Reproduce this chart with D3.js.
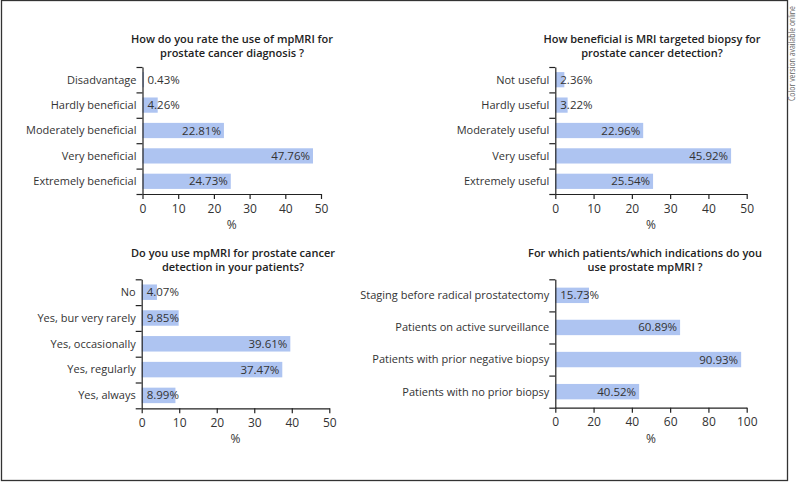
<!DOCTYPE html>
<html>
<head>
<meta charset="utf-8">
<script src="https://cdn.jsdelivr.net/npm/d3@7"></script>
<style>
  body { margin: 0; background: #fff; }
  svg { display: block; font-family: "Open Sans", "Noto Sans", sans-serif; }
  .axis path, .axis line { stroke: #222; stroke-width: 1.2; }
  .axis text { font-size: 12px; fill: #333; font-family: "Open Sans", sans-serif; }
</style>
</head>
<body>
<div id="chart"></div>
<script>
// Panel 1 - rating of mpMRI
const cats1 = ["Disadvantage", "Hardly beneficial", "Moderately beneficial", "Very beneficial", "Extremely beneficial"];
const vals1 = [0.43, 4.26, 22.81, 47.76, 24.73];

// Panel 2 - MRI targeted biopsy
const cats2 = ["Not useful", "Hardly useful", "Moderately useful", "Very useful", "Extremely useful"];
const vals2 = [2.36, 3.22, 22.96, 45.92, 25.54];

// Panel 3 - use of mpMRI
const cats3 = ["No", "Yes, bur very rarely", "Yes, occasionally", "Yes, regularly", "Yes, always"];
const vals3 = [4.07, 9.85, 39.61, 37.47, 8.99];

// Panel 4 - indications (bars drawn a bit longer than the printed values)
const cats4 = ["Staging before radical prostatectomy", "Patients on active surveillance", "Patients with prior negative biopsy", "Patients with no prior biopsy"];
const vals4 = [17.6, 65.2, 97.1, 43.8];
const labels4 = ["15.73%", "60.89%", "90.93%", "40.52%"];

const ticks50 = [0, 10, 20, 30, 40, 50];
const ticks100 = [0, 20, 40, 60, 80, 100];

const width = 798, height = 482;

const svg = d3.select("#chart").append("svg")
    .attr("width", width)
    .attr("height", height);

// outer frame
svg.append("rect")
    .attr("x", 1.5).attr("y", 0.5)
    .attr("width", 786).attr("height", 480)
    .attr("fill", "none")
    .attr("stroke", "#333")
    .attr("stroke-width", 1.3);

// side note
svg.append("text")
    .attr("transform", "translate(794.5,101) rotate(-90)")
    .attr("font-size", 8.4)
    .attr("fill", "#666")
    .attr("textLength", 95)
    .attr("lengthAdjust", "spacingAndGlyphs")
    .text("Color version available online");

function drawPanel(p) {
    const x = d3.scaleLinear().domain([0, p.ticks[p.ticks.length - 1]]).range([p.x0, p.x1]);
    const y = d3.scaleBand().domain(p.cats).range([p.yTop, p.yBot]).paddingInner(p.pad).paddingOuter(p.pad / 2);
    const yEdge = d3.scaleLinear().domain([0, p.cats.length]).range([p.yTop, p.yBot]);
    const g = svg.append("g");

    // title
    g.append("text")
        .attr("text-anchor", "middle")
        .attr("font-size", 11)
        .attr("font-weight", 600)
        .attr("fill", "#222")
        .selectAll("tspan")
        .data(p.title)
        .enter().append("tspan")
        .attr("x", p.titleX)
        .attr("y", (d, i) => p.titleY + i * 14)
        .text(d => d);

    // bars
    g.selectAll("rect.bar")
        .data(p.vals)
        .enter().append("rect")
        .attr("class", "bar")
        .attr("x", x(0))
        .attr("y", (d, i) => y(p.cats[i]))
        .attr("width", d => x(d) - x(0))
        .attr("height", y.bandwidth())
        .attr("fill", "#aec4f1");

    // value labels
    g.selectAll("text.val")
        .data(p.vals)
        .enter().append("text")
        .attr("class", "val")
        .attr("font-size", 11.5)
        .attr("fill", "#333")
        .attr("y", (d, i) => y(p.cats[i]) + y.bandwidth() / 2)
        .attr("dy", "0.35em")
        .text((d, i) => p.labels ? p.labels[i] : d.toFixed(2) + "%")
        .each(function (d) {
            const w = this.getComputedTextLength();
            const barW = x(d) - x(0);
            if (w + 7 > barW) {
                d3.select(this).attr("x", x(0) + 5).attr("text-anchor", "start");
            } else {
                d3.select(this).attr("x", x(d) - 3).attr("text-anchor", "end");
            }
        });

    // category labels
    g.selectAll("text.cat")
        .data(p.cats)
        .enter().append("text")
        .attr("class", "cat")
        .attr("font-size", 11)
        .attr("fill", "#333")
        .attr("text-anchor", "end")
        .attr("x", p.x0 - 6)
        .attr("y", d => y(d) + y.bandwidth() / 2)
        .attr("dy", "0.35em")
        .text(d => d);

    // y axis with ticks at band edges
    g.append("g")
        .attr("class", "axis")
        .attr("transform", `translate(${p.x0},0)`)
        .call(d3.axisLeft(yEdge).tickValues(d3.range(p.cats.length + 1)).tickFormat("").tickSize(6).tickSizeOuter(0));

    // x axis
    g.append("g")
        .attr("class", "axis")
        .attr("transform", `translate(0,${p.yBot})`)
        .call(d3.axisBottom(x).tickValues(p.ticks).tickSize(5).tickSizeOuter(0).tickPadding(5));

    g.append("text")
        .attr("x", (p.x0 + p.x1) / 2)
        .attr("y", p.yBot + 35)
        .attr("text-anchor", "middle")
        .attr("font-size", 12)
        .attr("fill", "#333")
        .text("%");
}

drawPanel({
    title: ["How do you rate the use of mpMRI for", "prostate cancer diagnosis ?"],
    cats: cats1, vals: vals1, ticks: ticks50,
    x0: 142.5, x1: 321, yTop: 67, yBot: 194, pad: 0.4,
    titleX: 232, titleY: 43
});

drawPanel({
    title: ["How beneficial is MRI targeted biopsy for", "prostate cancer detection?"],
    cats: cats2, vals: vals2, ticks: ticks50,
    x0: 555.3, x1: 746.7, yTop: 67, yBot: 194, pad: 0.4,
    titleX: 652, titleY: 43
});

drawPanel({
    title: ["Do you use mpMRI for prostate cancer", "detection in your patients?"],
    cats: cats3, vals: vals3, ticks: ticks50,
    x0: 141.7, x1: 329.3, yTop: 279.3, yBot: 408.3, pad: 0.4,
    titleX: 233, titleY: 257
});

drawPanel({
    title: ["For which patients/which indications do you", "use prostate mpMRI ?"],
    cats: cats4, vals: vals4, labels: labels4, ticks: ticks100,
    x0: 555.3, x1: 746.7, yTop: 279.3, yBot: 407.7, pad: 0.52,
    titleX: 645, titleY: 257
});
</script>
</body>
</html>
